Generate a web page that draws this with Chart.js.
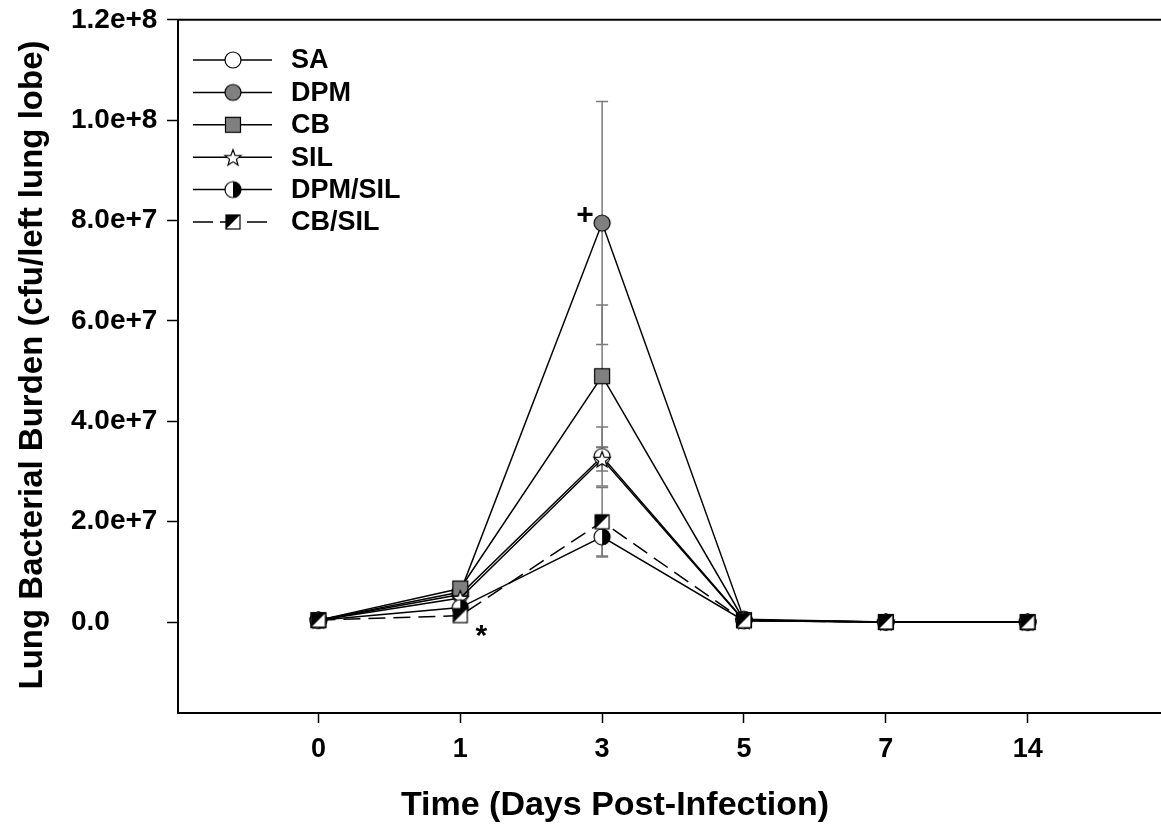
<!DOCTYPE html>
<html><head><meta charset="utf-8">
<script src="https://cdn.jsdelivr.net/npm/chart.js@4.4.0/dist/chart.umd.min.js"></script>
<style>html,body{margin:0;padding:0;background:#fff;overflow:hidden;}</style>
</head><body>
<canvas id="c" width="1161" height="835" style="display:block"></canvas>
<script>
// ---- data ----
const days = ['0', '1', '3', '5', '7', '14'];
const seriesNames = ['SA', 'DPM', 'CB', 'SIL', 'DPM/SIL', 'CB/SIL'];
const saMean     = [4e5, 5.5e6, 3.30e7, 4e5, 2e4, 1e4];
const saErr      = [1e5, 1.2e6, 5.9e6, 2e5, 1e4, 1e4];
const dpmMean    = [4e5, 6.0e6, 7.95e7, 6e5, 2e4, 1e4];
const dpmErr     = [1e5, 1.5e6, 2.42e7, 3e5, 1e4, 1e4];
const cbMean     = [4e5, 6.7e6, 4.90e7, 4e5, 2e4, 1e4];
const cbErr      = [1e5, 1.2e6, 1.42e7, 2e5, 1e4, 1e4];
const silMean    = [4e5, 4.8e6, 3.25e7, 3e5, 2e4, 1e4];
const silErr     = [1e5, 1.0e6, 2.4e6, 2e5, 1e4, 1e4];
const dpmSilMean = [4e5, 2.9e6, 1.70e7, 3e5, 2e4, 1e4];
const dpmSilErr  = [1e5, 8e5, 4.0e6, 2e5, 1e4, 1e4];
const cbSilMean  = [4e5, 1.3e6, 2.00e7, 3e5, 2e4, 1e4];
const cbSilErr   = [1e5, 5e5, 6.8e6, 2e5, 1e4, 1e4];
const yTickValues = [0, 2e7, 4e7, 6e7, 8e7, 1e8, 1.2e8];
const yTickLabels = ['0.0', '2.0e+7', '4.0e+7', '6.0e+7', '8.0e+7', '1.0e+8', '1.2e+8'];
const xTitle = 'Time (Days Post-Infection)';
const yTitle = 'Lung Bacterial Burden (cfu/left lung lobe)';

const means = [saMean, dpmMean, cbMean, silMean, dpmSilMean, cbSilMean];
const errs  = [saErr, dpmErr, cbErr, silErr, dpmSilErr, cbSilErr];

// ---- markers ----
const GRAY = '#808080';
function mk(draw) {
  const c = document.createElement('canvas');
  c.width = 22; c.height = 22;
  const g = c.getContext('2d');
  g.lineWidth = 1.2; g.strokeStyle = '#000';
  draw(g, 11, 11);
  return c;
}
const markers = [
  mk((g, x, y) => { g.beginPath(); g.arc(x, y, 8, 0, 2 * Math.PI); g.fillStyle = '#fff'; g.fill(); g.stroke(); }),
  mk((g, x, y) => { g.beginPath(); g.arc(x, y, 8, 0, 2 * Math.PI); g.fillStyle = GRAY; g.fill(); g.stroke(); }),
  mk((g, x, y) => { g.fillStyle = GRAY; g.fillRect(x - 7.5, y - 7.5, 15, 15); g.strokeRect(x - 7.5, y - 7.5, 15, 15); }),
  mk((g, x, y) => {
    g.beginPath();
    for (let k = 0; k < 10; k++) {
      const r = k % 2 === 0 ? 8.5 : 3.6;
      const a = -Math.PI / 2 + k * Math.PI / 5;
      const px = x + r * Math.cos(a), py = y + 1 + r * Math.sin(a);
      k === 0 ? g.moveTo(px, py) : g.lineTo(px, py);
    }
    g.closePath(); g.fillStyle = '#fff'; g.fill(); g.stroke();
  }),
  mk((g, x, y) => {
    g.beginPath(); g.arc(x, y, 8, 0, 2 * Math.PI); g.fillStyle = '#fff'; g.fill();
    g.beginPath(); g.arc(x, y, 8, -Math.PI / 2, Math.PI / 2); g.closePath(); g.fillStyle = '#000'; g.fill();
    g.beginPath(); g.arc(x, y, 8, 0, 2 * Math.PI); g.stroke();
  }),
  mk((g, x, y) => {
    g.fillStyle = '#fff'; g.fillRect(x - 7, y - 7, 14, 14);
    g.beginPath(); g.moveTo(x - 7, y - 7); g.lineTo(x + 7, y - 7); g.lineTo(x - 7, y + 7); g.closePath();
    g.fillStyle = '#000'; g.fill();
    g.strokeRect(x - 7, y - 7, 14, 14);
  })
];
const dashes = [[], [], [], [], [], [17, 8]];

const FONT = "'Liberation Sans', Arial, sans-serif";

const datasets = seriesNames.map((name, i) => ({
  label: name,
  data: days.map((d, j) => ({ x: j, y: means[i][j] })),
  borderColor: '#000',
  borderWidth: 1.5,
  borderDash: dashes[i],
  pointStyle: markers[i],
  pointRadius: 8,
  fill: false,
  tension: 0,
  order: 6 - i
}));

const errorBars = {
  id: 'errorBars',
  beforeDatasetsDraw(chart) {
    const ctx = chart.ctx, xs = chart.scales.x, ys = chart.scales.y;
    ctx.save();
    ctx.strokeStyle = '#7a7a7a';
    ctx.lineWidth = 1.5;
    means.forEach((m, i) => {
      m.forEach((v, j) => {
        const x = xs.getPixelForValue(j);
        const yt = ys.getPixelForValue(v + errs[i][j]);
        const yb = ys.getPixelForValue(v - errs[i][j]);
        ctx.beginPath();
        ctx.moveTo(x, yt); ctx.lineTo(x, yb);
        ctx.moveTo(x - 6, yt); ctx.lineTo(x + 6, yt);
        ctx.moveTo(x - 6, yb); ctx.lineTo(x + 6, yb);
        ctx.stroke();
      });
    });
    ctx.restore();
  }
};

const extras = {
  id: 'extras',
  afterDraw(chart) {
    const ctx = chart.ctx, a = chart.chartArea, xs = chart.scales.x, ys = chart.scales.y;
    ctx.save();
    // top frame line
    ctx.strokeStyle = '#000'; ctx.lineWidth = 2;
    ctx.beginPath(); ctx.moveTo(a.left - 1, a.top); ctx.lineTo(a.right, a.top); ctx.stroke();
    // legend
    const rowY0 = 60, rowDy = 32.4;
    seriesNames.forEach((name, i) => {
      const y = rowY0 + i * rowDy;
      ctx.strokeStyle = '#000'; ctx.lineWidth = 1.5;
      ctx.setLineDash(i === 5 ? [20, 7] : []);
      ctx.beginPath(); ctx.moveTo(193, y); ctx.lineTo(272, y); ctx.stroke();
      ctx.setLineDash([]);
      ctx.drawImage(markers[i], 233 - 11, y - 11);
      ctx.fillStyle = '#000';
      ctx.font = 'bold 27px ' + FONT;
      ctx.textAlign = 'left'; ctx.textBaseline = 'middle';
      ctx.fillText(name, 291, y + 1);
    });
    // significance marks
    ctx.font = 'bold 30px ' + FONT;
    ctx.textAlign = 'center'; ctx.textBaseline = 'middle';
    ctx.fillText('+', xs.getPixelForValue(2) - 17, ys.getPixelForValue(dpmMean[2]) - 7);
    ctx.fillText('*', xs.getPixelForValue(1) + 21, ys.getPixelForValue(0) + 15);
    // axis titles
    ctx.font = 'bold 34px ' + FONT;
    ctx.fillText(xTitle, 615, 806);
    ctx.font = 'bold 33px ' + FONT;
    ctx.translate(33, 365);
    ctx.rotate(-Math.PI / 2);
    ctx.fillText(yTitle, 0, 0);
    ctx.restore();
  }
};

new Chart(document.getElementById('c'), {
  type: 'line',
  data: { datasets },
  options: {
    responsive: false,
    animation: false,
    layout: { autoPadding: false, padding: { left: 71, top: 19, right: 0, bottom: 0 } },
    plugins: { legend: { display: false }, tooltip: { enabled: false } },
    scales: {
      x: {
        type: 'linear', min: -0.99, max: 5.94,
        afterBuildTicks: s => { s.ticks = days.map((d, j) => ({ value: j })); },
        afterFit: s => { s.height = 122; s.paddingLeft = 0; s.paddingRight = 0; },
        ticks: {
          callback: (v) => days[v],
          autoSkip: false, maxRotation: 0,
          font: { family: FONT, size: 27, weight: 'bold' }, color: '#000', padding: 10
        },
        grid: { drawOnChartArea: false, drawTicks: true, tickLength: 10, tickColor: '#000', tickWidth: 1.5 },
        border: { display: true, color: '#000', width: 2 }
      },
      y: {
        type: 'linear', min: -1.81e7, max: 1.2e8,
        afterBuildTicks: s => { s.ticks = yTickValues.map(v => ({ value: v })); },
        afterFit: s => { s.width = 107; },
        ticks: {
          callback: (v, idx) => yTickLabels[idx],
          crossAlign: 'far',
          font: { family: FONT, size: 28, weight: 'bold' }, color: '#000'
        },
        grid: { drawOnChartArea: false, drawTicks: true, tickLength: 11, tickColor: '#000', tickWidth: 1.5 },
        border: { display: true, color: '#000', width: 2 }
      }
    }
  },
  plugins: [errorBars, extras]
});
</script>
</body></html>
